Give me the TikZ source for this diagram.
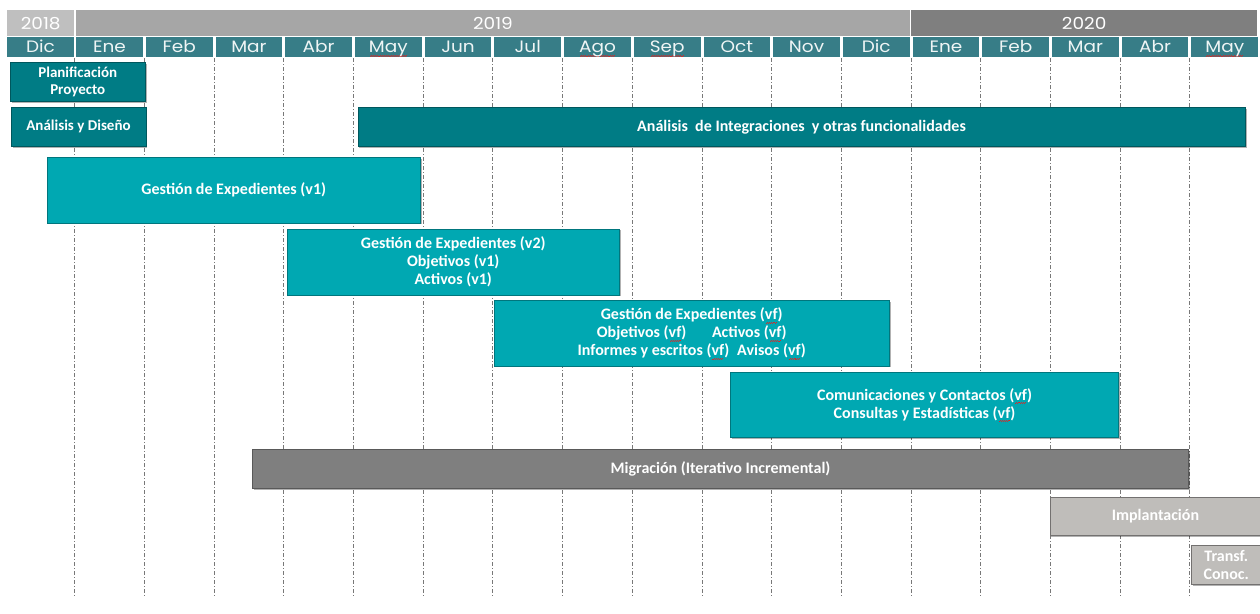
\documentclass[tikz,border=0pt]{standalone}
\usepackage{fontspec}
\setmainfont{Carlito}
\newfontfamily\hdrfont{Poppins}[FakeStretch=1.12]
\usetikzlibrary{shadows}
\definecolor{darkteal}{RGB}{0,124,133}
\definecolor{lteal}{RGB}{0,168,178}
\definecolor{monthc}{RGB}{55,125,135}
\definecolor{yr18}{RGB}{191,191,191}
\definecolor{yr19}{RGB}{166,166,166}
\definecolor{yr20}{RGB}{127,127,127}
\definecolor{migc}{RGB}{127,127,127}
\definecolor{implc}{RGB}{191,189,186}
\definecolor{gridc}{RGB}{120,120,120}
\definecolor{spellc}{RGB}{215,40,40}
\newsavebox\rwbox
\newcommand\rw[1]{\sbox\rwbox{#1}\rlap{\smash{\color{spellc}\hbox to \wd\rwbox{\cleaders\hbox{\rule[-3.8pt]{1.1pt}{1.1pt}\rule[-2.8pt]{1.1pt}{1.1pt}}\hfil}}}\usebox\rwbox}
\begin{document}
\begin{tikzpicture}[x=1pt,y=-1pt,
  box/.style={draw=#1!70!black, fill=#1, line width=0.5pt, inner sep=0pt, anchor=north west,
    text=white, align=center, font=\bfseries\fontsize{16}{18}\selectfont,
    drop shadow={shadow xshift=1.5pt, shadow yshift=-1.5pt, opacity=0.3, fill=black}},
  smalltext/.style={font=\bfseries\fontsize{15}{16.5}\selectfont},
  hdr/.style={inner sep=0pt, anchor=north west, text=white, font=\hdrfont\fontsize{16.5}{17}\selectfont},
  gridline/.style={draw=gridc, line width=0.6pt, dash pattern=on 4pt off 2pt on 1pt off 2pt}]
\path[use as bounding box, clip] (0,0) rectangle (1260,613);
\fill[white] (0,0) rectangle (1260,613);
% grid lines
\foreach \k in {0,...,16}{
  \draw[gridline] ({74.5+69.7*\k},58) -- ({74.5+69.7*\k},597);
}
% year row
\node[hdr, fill=yr18, minimum width=67pt, minimum height=26pt] (y18) at (7,10) {2018};
\node[hdr, fill=yr19, minimum width=833.5pt, minimum height=26pt] (y19) at (76,10) {2019};
\node[hdr, fill=yr20, minimum width=346pt, minimum height=26pt] (y20) at (911,10) {2020};
% month row
\foreach \m [count=\k from 0] in {Dic,Ene,Feb,Mar,Abr,\rw{May},Jun,Jul,\rw{Ago},\rw{Sep},Oct,Nov,Dic,Ene,Feb,Mar,Abr,\rw{May}}{
  \pgfmathsetmacro\xx{\k==0 ? 7 : 74.5+69.7*(\k-1)+1.5}
  \pgfmathsetmacro\ww{\k==0 ? 66.5 : 66.7}
  \node[hdr, fill=monthc, text=white!92!monthc, minimum width=\ww pt, minimum height=20pt, text height=11.5pt, text depth=0pt] (m\k) at (\xx,37) {\m};
}
% task boxes
\node[box=darkteal, smalltext, minimum width=135pt, minimum height=39pt] (plan) at (10,62) {Planificación\\Proyecto};
\node[box=darkteal, smalltext, minimum width=134.5pt, minimum height=39pt] (ayd) at (11,107) {Análisis y Diseño};
\node[box=darkteal, minimum width=887.5pt, minimum height=39pt] (integ) at (357.5,107) {Análisis\ \ de Integraciones\ \ y otras funcionalidades};
\node[box=lteal, minimum width=373pt, minimum height=65.5pt] (ge1) at (47,157) {Gestión de Expedientes (v1)};
\node[box=lteal, minimum width=332pt, minimum height=66pt] (ge2) at (287,228.5) {Gestión de Expedientes (v2)\\Objetivos (v1)\\Activos (v1)};
\node[box=lteal, minimum width=395.5pt, minimum height=65.4pt] (gevf) at (493.7,300.3) {Gestión de Expedientes (\rw{vf})\\Objetivos (\rw{vf})\hspace{1.6em}Activos (\rw{vf})\\Informes y escritos (\rw{vf})\hspace{0.5em}Avisos (\rw{vf})};
\node[box=lteal, minimum width=388pt, minimum height=65.6pt] (com) at (730.3,371.7) {Comunicaciones y Contactos (\rw{vf})\\Consultas y Estadísticas (\rw{vf})};
\node[box=migc, minimum width=936pt, minimum height=39.3pt] (mig) at (252.3,449) {Migración (Iterativo Incremental)};
\node[box=implc, draw=implc!60!black, minimum width=211pt, minimum height=38pt] (impl) at (1049.7,497) {Implantación};
\node[box=implc, draw=implc!60!black, minimum width=70pt, minimum height=39pt] (trans) at (1191,545) {Transf.\\Conoc.};
\end{tikzpicture}
\end{document}
